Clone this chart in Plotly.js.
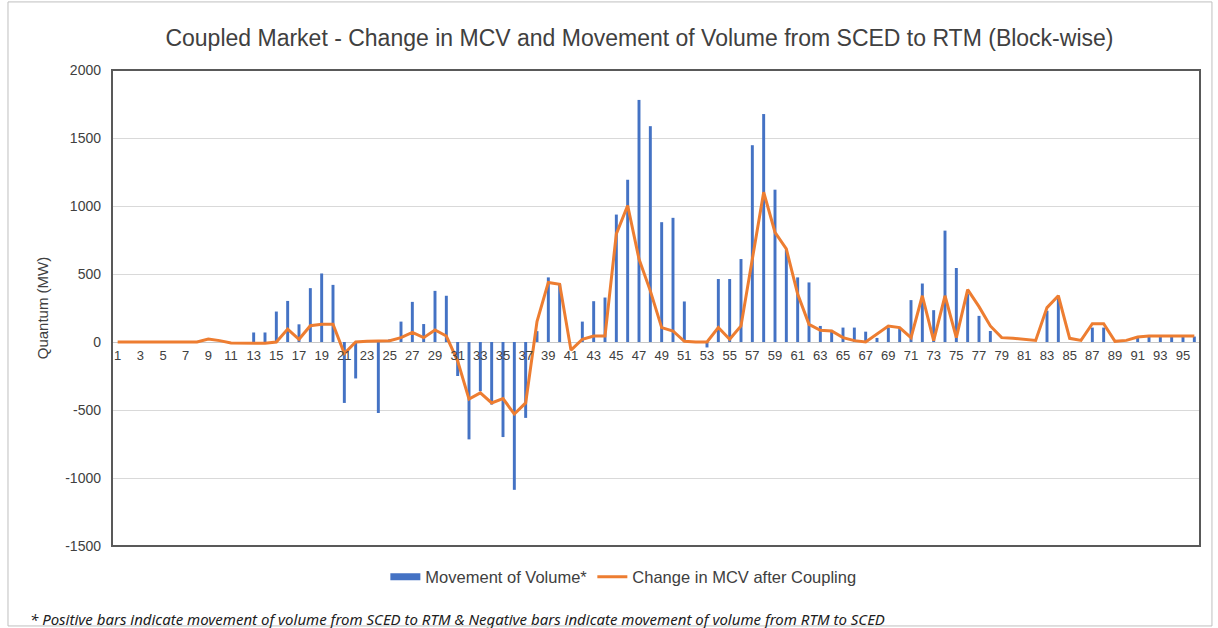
<!DOCTYPE html>
<html>
<head>
<meta charset="utf-8">
<script src="https://cdn.plot.ly/plotly-3.0.1.min.js"></script>
<style>html,body{margin:0;padding:0;background:#fff;}#chart{width:1218px;height:628px;}</style>
</head>
<body>
<div id="chart"></div>
<script>
var blocks = [1,2,3,4,5,6,7,8,9,10,11,12,13,14,15,16,17,18,19,20,21,22,23,24,25,26,27,28,29,30,31,32,33,34,35,36,37,38,39,40,41,42,43,44,45,46,47,48,49,50,51,52,53,54,55,56,57,58,59,60,61,62,63,64,65,66,67,68,69,70,71,72,73,74,75,76,77,78,79,80,81,82,83,84,85,86,87,88,89,90,91,92,93,94,95,96];

var movementOfVolume = [0,0,0,0,0,0,0,0,0,0,0,0,70,70,224,302,130,396,504,420,
  -448,-268,0,-522,20,150,295,132,376,340,-250,-716,-362,-460,-699,-1087,-558,80,475,425,
  0,150,300,327,937,1193,1780,1587,881,913,298,0,-40,463,463,610,1447,1676,1120,680,
  475,438,118,89,106,106,76,30,106,106,308,430,234,819,544,352,192,81,0,0,
  0,0,230,340,0,0,106,106,0,0,40,40,40,40,40,40];

var changeInMCV = [0,0,0,0,0,0,0,0,22,10,-8,-10,-10,-10,0,95,20,120,130,130,
  -85,0,5,5,10,32,70,32,88,44,-140,-420,-374,-448,-416,-530,-448,150,438,425,
  -60,20,44,44,795,1004,610,376,106,81,5,0,0,106,20,118,598,1102,807,684,
  352,130,86,81,32,10,0,56,118,106,32,340,10,340,32,385,260,118,32,27,
  20,12,253,340,27,12,135,135,5,12,37,44,44,44,44,44];

var tickBlocks = [1,3,5,7,9,11,13,15,17,19,21,23,25,27,29,31,33,35,37,39,41,43,45,47,49,51,53,55,57,59,61,63,65,67,69,71,73,75,77,79,81,83,85,87,89,91,93,95];
var tickLabels = tickBlocks.map(String);

var yTicks = [-1500,-1000,-500,0,500,1000,1500,2000];
var yTickLabels = ["-1500","-1000","-500","0","500","1000","1500","2000"];

var seriesNames = ["Movement of Volume*", "Change in MCV after Coupling"];
var chartTitle = "Coupled Market - Change in MCV and Movement of Volume from SCED to RTM (Block-wise)";
var yTitle = "Quantum (MW)";
var footnote = "* Positive bars indicate movement of volume from SCED to RTM & Negative bars indicate movement of volume from RTM to SCED";

var FONT = "Liberation Sans, Arial, sans-serif";
var TXT = "#404040";
var BLUE = "#4472C4", ORANGE = "#ED7D31";

var traces = [
  {
    type: "bar", x: blocks, y: movementOfVolume, name: seriesNames[0],
    marker: {color: BLUE}, width: 0.26, showlegend: false, hoverinfo: "x+y"
  },
  {
    type: "scatter", mode: "lines", x: [null], y: [null], name: seriesNames[0],
    line: {color: BLUE, width: 7}, showlegend: true, hoverinfo: "skip"
  },
  {
    type: "scatter", mode: "lines", x: blocks, y: changeInMCV, name: seriesNames[1],
    line: {color: ORANGE, width: 3}, hoverinfo: "x+y"
  }
];

var yMin = -1500, yMax = 2000;

var layout = {
  width: 1218, height: 628,
  paper_bgcolor: "#ffffff", plot_bgcolor: "#ffffff",
  margin: {l: 112, r: 18, t: 70, b: 82},
  font: {family: FONT, color: TXT, size: 13},
  title: {
    text: chartTitle, x: 0.525, xanchor: "center", y: 0.94, yanchor: "middle",
    font: {family: FONT, size: 23, color: "#404040"}
  },
  showlegend: true,
  legend: {
    orientation: "h", x: 0.47, xanchor: "center", y: -0.065, yanchor: "middle",
    font: {family: FONT, size: 16.5, color: TXT}, traceorder: "normal",
    itemwidth: 30
  },
  xaxis: {
    range: [0.5, 96.5], anchor: "free", position: (0 - yMin) / (yMax - yMin),
    tickmode: "array", tickvals: tickBlocks, ticktext: tickLabels,
    ticks: "", showline: false, showgrid: false, zeroline: false,
    ticklabelstandoff: 4,
    tickfont: {family: FONT, size: 13, color: TXT}, fixedrange: true
  },
  yaxis: {
    range: [yMin, yMax], tickmode: "array", tickvals: yTicks, ticktext: yTickLabels,
    showgrid: true, gridcolor: "#d9d9d9", gridwidth: 1,
    zeroline: true, zerolinecolor: "#c8c8c8", zerolinewidth: 1,
    showline: false, ticks: "", ticklabelstandoff: 10,
    tickfont: {family: FONT, size: 14, color: TXT},
    title: {text: yTitle, font: {family: FONT, size: 15, color: TXT}, standoff: 12},
    fixedrange: true
  },
  bargap: 0.7,
  shapes: [
    {type: "rect", xref: "paper", yref: "paper", x0: 0, x1: 1, y0: 0, y1: 1,
     line: {color: "#595959", width: 2}, fillcolor: "rgba(0,0,0,0)", layer: "above"},
    {type: "rect", xref: "paper", yref: "paper", x0: -0.0956, x1: 1.011, y0: -0.168, y1: 1.143,
     line: {color: "#bfbfbf", width: 1}, fillcolor: "rgba(0,0,0,0)", layer: "below"}
  ],
  annotations: [
    {xref: "paper", yref: "paper", x: -0.077, y: -0.153, xanchor: "left", yanchor: "middle",
     showarrow: false, text: "<i>" + footnote + "</i>",
     font: {family: "Noto Sans, sans-serif", size: 15, color: "#202020"}}
  ]
};

Plotly.newPlot("chart", traces, layout, {displayModeBar: false, staticPlot: true});
</script>
</body>
</html>
